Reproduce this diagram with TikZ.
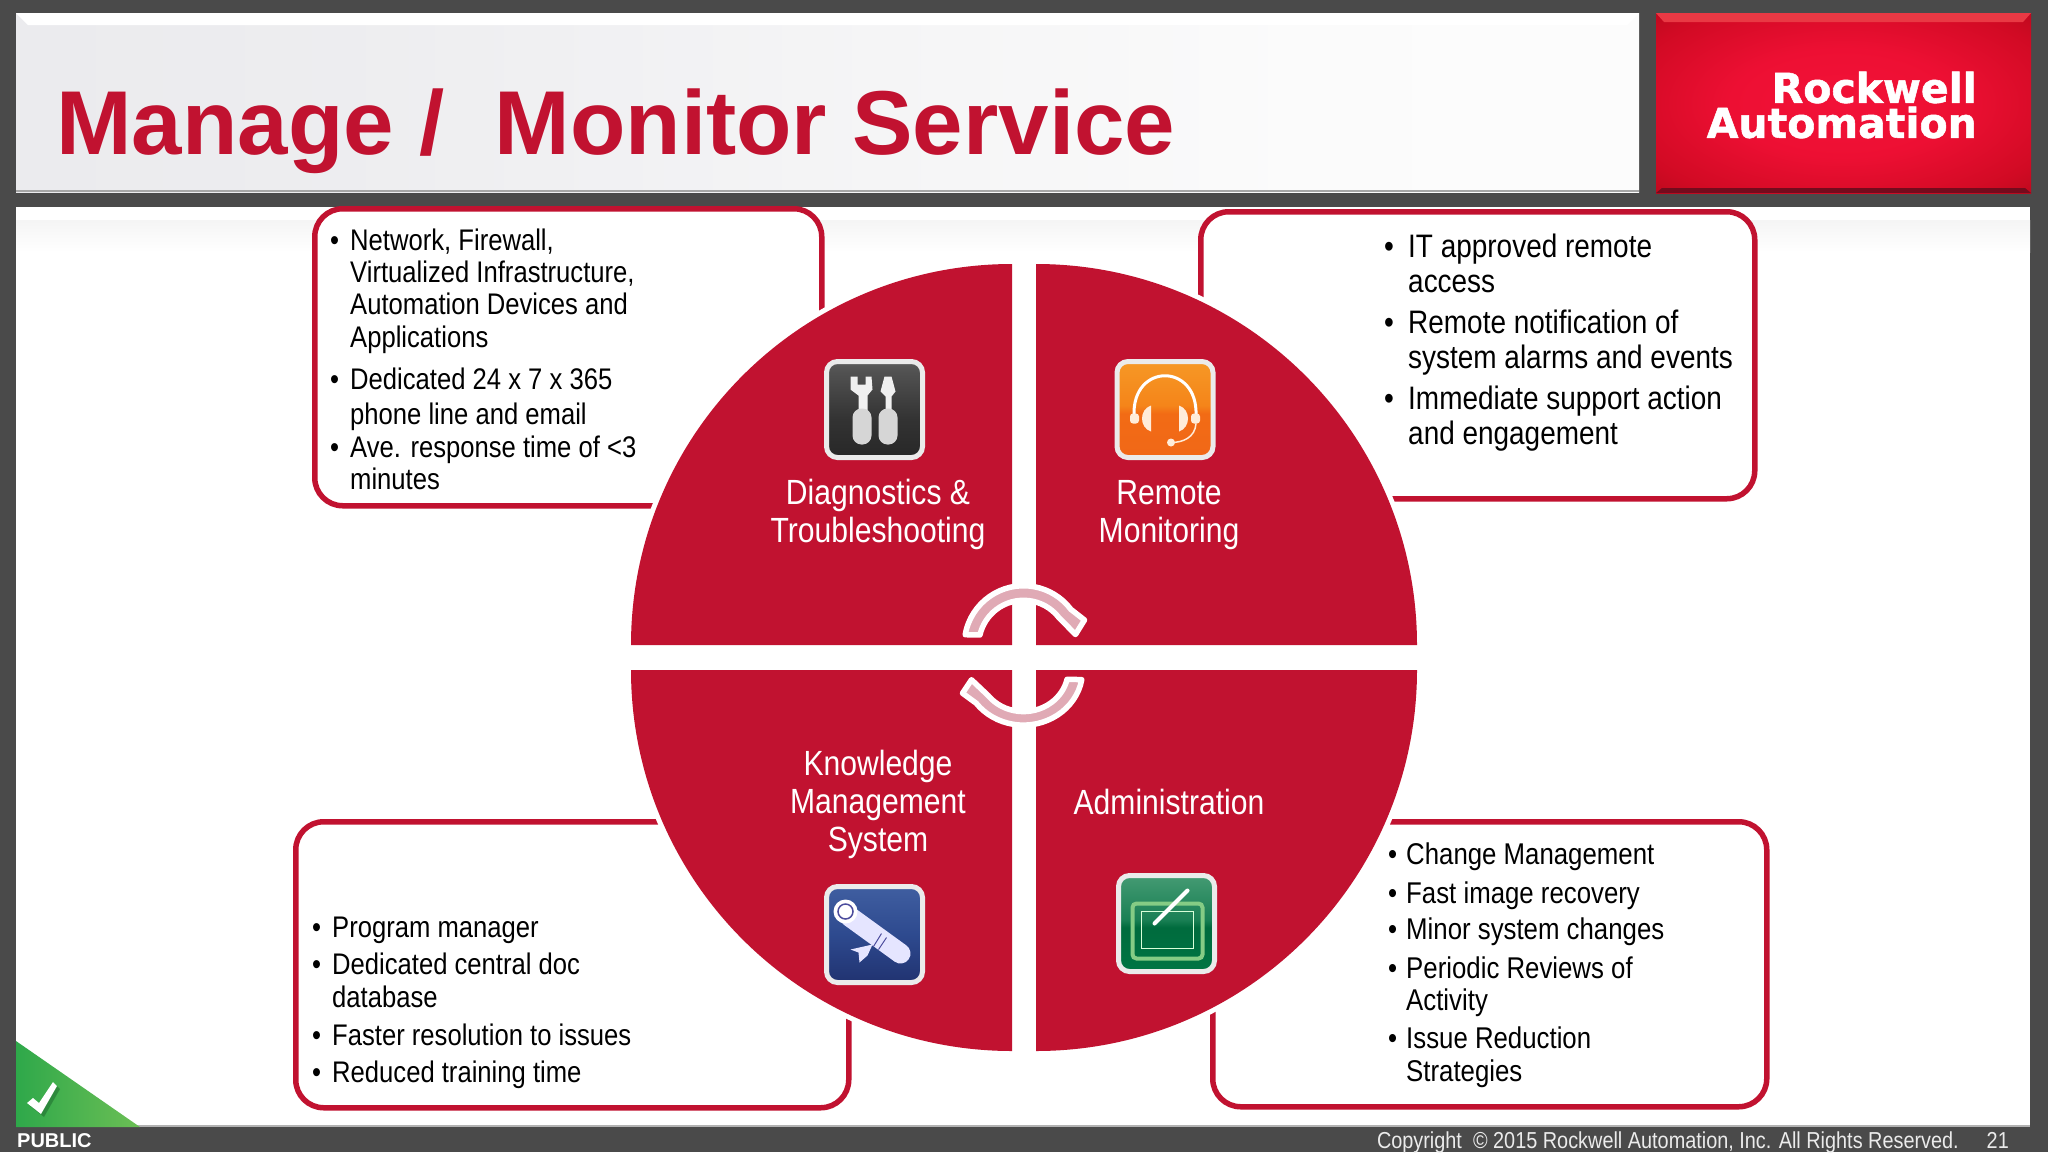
\documentclass[tikz,border=0pt]{standalone}
\usepackage{fontspec}
\usepackage{tikz}
\usetikzlibrary{shadows}
\setmainfont[FakeStretch=0.86]{Liberation Sans}
\newfontfamily\plainfont{Liberation Sans}
\newfontfamily\logofont[BoldFont={DejaVu Sans Bold},BoldFeatures={FakeBold=1.3}]{DejaVu Sans}
\newcommand{\fsize}[1]{\fontsize{#1}{#1}\selectfont}
\definecolor{slate}{HTML}{4A4A4A}
\definecolor{brandred}{HTML}{C11230}
\definecolor{loopfill}{HTML}{E0AAB5}
\definecolor{framegrey}{HTML}{EBEBEB}
\definecolor{flagleft}{HTML}{2EA84A}
\definecolor{flagright}{HTML}{6CBF55}
\pgfdeclareverticalshading{darkicon}{100bp}{rgb(0bp)=(0.45,0.45,0.45);rgb(10bp)=(0.12,0.12,0.12);rgb(45bp)=(0.20,0.20,0.20);rgb(70bp)=(0.32,0.32,0.32);rgb(100bp)=(0.58,0.58,0.58)}
\pgfdeclareverticalshading{orangeicon}{100bp}{rgb(0bp)=(0.98,0.62,0.30);rgb(12bp)=(0.94,0.40,0.10);rgb(48bp)=(0.95,0.42,0.08);rgb(52bp)=(0.96,0.52,0.10);rgb(100bp)=(0.97,0.68,0.20)}
\pgfdeclareverticalshading{blueicon}{100bp}{rgb(0bp)=(0.45,0.50,0.66);rgb(12bp)=(0.10,0.15,0.38);rgb(50bp)=(0.18,0.29,0.56);rgb(75bp)=(0.25,0.37,0.63);rgb(100bp)=(0.55,0.65,0.82)}
\pgfdeclareverticalshading{greenicon}{100bp}{rgb(0bp)=(0.35,0.72,0.52);rgb(12bp)=(0.00,0.48,0.28);rgb(48bp)=(0.00,0.42,0.24);rgb(52bp)=(0.10,0.50,0.33);rgb(100bp)=(0.45,0.72,0.58)}
\pgfdeclarehorizontalshading{titlepanel}{100bp}{rgb(0bp)=(0.90,0.90,0.91);rgb(35bp)=(0.93,0.93,0.94);rgb(65bp)=(0.985,0.985,0.985);rgb(100bp)=(1,1,1)}
\pgfdeclareradialshading{logoglow}{\pgfpoint{0bp}{0bp}}{rgb(0bp)=(0.95,0.07,0.22);rgb(15bp)=(0.93,0.06,0.20);rgb(30bp)=(0.82,0.04,0.14);rgb(42bp)=(0.66,0.03,0.09);rgb(50bp)=(0.60,0.02,0.08)}
\tikzset{
  calloutbox/.style={draw=brandred,fill=white,line width=5.5pt,rounded corners=28pt,anchor=north west,inner sep=0pt},
  iconbox/.style={draw=framegrey,line width=5pt,rounded corners=11pt,minimum size=96pt,inner sep=0pt,
    drop shadow={shadow xshift=1pt,shadow yshift=-2pt,opacity=.35}},
  quadlabel/.style={text=white,align=center,inner sep=0pt,font=\fontsize{35}{38}\selectfont},
  listtext/.style={anchor=base west,inner sep=0pt,font=\fsize{#1}},
  loopshape/.style={draw=white,fill=loopfill,line width=5.5pt,line join=round},
}
\begin{document}
\begin{tikzpicture}[x=1pt,y=-1pt]
\path[use as bounding box,fill=slate] (0,0) rectangle (2048,1152);
% panels
\path[shading=titlepanel] (16,13) rectangle (1639,192);
\fill[white] (16,13) -- (1639,13) -- (1627,25) -- (28,25) -- cycle;
\fill[gray!70] (16,190) rectangle (1639,192);
\fill[white] (16,207) rectangle (2030,1127);
\path[top color=gray!8,bottom color=white] (16,220) rectangle (2030,252);
\fill[gray!60] (16,1125) rectangle (2030,1127);
\path[shading=logoglow] (1656,13) rectangle (2031,193);
\fill[red!55!brandred!80!white] (1656,13) -- (2031,13) -- (2023,22) -- (1664,22) -- cycle;
\fill[brandred!60!black] (1656,193) -- (2031,193) -- (2025,188) -- (1662,188) -- cycle;
\node[anchor=base west,inner sep=0pt,text=brandred,font=\plainfont\bfseries\fsize{90.7}] (title) at (56,154) {Manage /\ \ Monitor Service};
\node[anchor=east,inner sep=0pt,align=right,text=white,font=\logofont\bfseries\fontsize{41}{35}\selectfont] (logo) at (1977,105) {Rockwell\\Automation};
% callouts
\node[calloutbox,minimum width=507pt,minimum height=297pt] (boxtl) at (312,206) {};
\node[calloutbox,minimum width=554pt,minimum height=287pt] (boxtr) at (1198,209) {};
\node[calloutbox,minimum width=553pt,minimum height=286pt] (boxbl) at (293,819) {};
\node[calloutbox,minimum width=554pt,minimum height=285pt] (boxbr) at (1210,819) {};
% the wheel
\foreach \cx/\cy/\ang in {1012/645/90,1036/645/0,1012/670/180,1036/670/270}
  \fill[white,shift={(\cx,\cy)},x=1pt,y=1pt] (0,0) -- (\ang:386) arc[start angle=\ang,delta angle=90,radius=386pt] -- cycle;
\foreach \cx/\cy/\ang in {1012/645/90,1036/645/0,1012/670/180,1036/670/270}
  \fill[brandred,shift={(\cx,\cy)},x=1pt,y=1pt] (0,0) -- (\ang:381) arc[start angle=\ang,delta angle=90,radius=381pt] -- cycle;
\foreach \cy/\ang/\sy in {645/0/1,670/180/.93}
  \draw[loopshape,shift={(1023.5,\cy)},rotate=\ang,yscale=\sy,x=1pt,y=1pt]
    (-58.3,10.3) arc[start angle=170,end angle=37,radius=59.25pt]
    -- (61,25) -- (52,10.5) -- (35.3,27.5)
    arc[start angle=38,end angle=167,radius=44.75pt] -- cycle;
% icons
\node[iconbox,shading=darkicon] (diag) at (874.5,409.5) {};
\node[iconbox,shading=orangeicon] (remote) at (1165,409.5) {};
\node[iconbox,shading=blueicon] (know) at (874.5,934.5) {};
\node[iconbox,shading=greenicon] (admin) at (1166.5,923.5) {};
\begin{scope}[shift={(diag.center)}]
\fill[white!94!black] (-24,-33) -- (-17,-33) -- (-17,-25) -- (-9,-25) -- (-9,-33) -- (-3,-33) -- (-2,-20) -- (-7,-14) -- (-7,2) -- (-16,2) -- (-16,-14) -- (-24,-20) -- cycle;
\fill[white!84!black,rounded corners=9pt] (-22,-1) rectangle (-3,35);
\fill[white!94!black] (10,-33) -- (17,-33) -- (21,-18) -- (17,-13) -- (17,2) -- (11,2) -- (11,-13) -- (6,-18) -- cycle;
\fill[white!84!black,rounded corners=9pt] (4,-1) rectangle (23,35);
\end{scope}
\begin{scope}[shift={(remote.center)}]
\draw[white,line width=3pt] (-31,6) .. controls (-33,-47) and (33,-47) .. (31,6);
\fill[orange!15!white,rounded corners=3pt] (-35,4) rectangle (-26,14);
\fill[orange!15!white,rounded corners=3pt] (26,4) rectangle (35,14);
\fill[orange!15!white] (-14,-4) .. controls (-26,0) and (-26,18) .. (-14,22) -- cycle;
\fill[orange!15!white] (14,-4) .. controls (26,0) and (26,18) .. (14,22) -- cycle;
\draw[orange!15!white,line width=1.5pt] (31,14) .. controls (30,28) and (18,33) .. (6,33);
\fill[orange!15!white] (6,33) circle[radius=4pt];
\end{scope}
\begin{scope}[shift={(know.center)}]
\draw[white!90!blue,line width=20pt,line cap=round] (-25,-18) -- (26,19);
\fill[white] (-29,-23) circle[radius=12pt];
\draw[blue!45!black!70,line width=1.5pt] (-29,-23) circle[radius=7.5pt];
\draw[blue!45!black!70,line width=1pt] (7,-1) -- (-1,12);
\draw[blue!45!black!70,line width=1pt] (12,3) -- (4,15);
\fill[white!90!blue] (-2,10) -- (-24,15) -- (-16,18) -- (-15,28) -- (-7,21) -- cycle;
\end{scope}
\begin{scope}[shift={(admin.center)}]
\draw[white!65!green!80!black,line width=4pt,rounded corners=4pt] (-34,-20) rectangle (36,35);
\draw[white!85!green,line width=1.5pt] (-25,-12) rectangle (27,25);
\draw[white,line width=4pt,line cap=round] (-12,0) -- (21,-33);
\end{scope}
% wheel labels
\node[quadlabel] (diagtxt) at (878,514) {Diagnostics \&\\Troubleshooting};
\node[quadlabel] (remotetxt) at (1169,515) {Remote\\Monitoring};
\node[quadlabel] (knowtxt) at (878,804.5) {Knowledge\\Management\\System};
\node[quadlabel] (admintxt) at (1169,802) {Administration};
% bullet lists
\foreach \nm/\ypos/\txt in {a/250/{Network, Firewall,},b/282/{Virtualized Infrastructure,},c/314/Automation Devices and,d/347/Applications,e/389/Dedicated 24 x 7 x 365,f/424/phone line and email,g/457/Ave. response time of <3,h/489/minutes}
  \node[listtext=29.8] (tl\nm) at (350,\ypos) {\txt};
\foreach \nm/\ypos in {a/250,b/389,c/457}
  \node[listtext=29.8] (tldot\nm) at (330,\ypos) {•};
\foreach \nm/\ypos/\txt in {a/257/IT approved remote,b/292/access,c/333/Remote notification of,d/368/system alarms and events,e/409/Immediate support action,f/444/and engagement}
  \node[listtext=32.5] (tr\nm) at (1408,\ypos) {\txt};
\foreach \nm/\ypos in {a/257,b/333,c/409}
  \node[listtext=32.5] (trdot\nm) at (1384,\ypos) {•};
\foreach \nm/\ypos/\txt in {a/937/Program manager,b/974/Dedicated central doc,c/1007/database,d/1045/Faster resolution to issues,e/1082/Reduced training time}
  \node[listtext=29.8] (bl\nm) at (332,\ypos) {\txt};
\foreach \nm/\ypos in {a/937,b/974,c/1045,d/1082}
  \node[listtext=29.8] (bldot\nm) at (312,\ypos) {•};
\foreach \nm/\ypos/\txt in {a/864/Change Management,b/903/Fast image recovery,c/939/Minor system changes,d/978/Periodic Reviews of,e/1010/Activity,f/1048/Issue Reduction,g/1081/Strategies}
  \node[listtext=30] (br\nm) at (1406,\ypos) {\txt};
\foreach \nm/\ypos in {a/864,b/903,c/939,d/978,e/1048}
  \node[listtext=30] (brdot\nm) at (1388,\ypos) {•};
% classification flag and footer
\path[left color=flagleft,right color=flagright] (16,1041) -- (140,1127) -- (16,1127) -- cycle;
\fill[flagleft!60!black,opacity=.5] (30,1106) -- (36,1101) -- (42,1106) -- (56,1085) -- (60,1089) -- (44,1117) -- cycle;
\fill[white] (27,1103) -- (33,1098) -- (39,1103) -- (53,1082) -- (57,1086) -- (41,1114) -- cycle;
\node[anchor=base west,inner sep=0pt,text=white,font=\plainfont\bfseries\fsize{20}] (public) at (17,1147) {PUBLIC};
\node[anchor=base east,inner sep=0pt,text=framegrey,font=\fsize{23.1}] (copy) at (1959,1148) {Copyright\ \ © 2015 Rockwell Automation, Inc. All Rights Reserved.};
\node[anchor=base east,inner sep=0pt,text=framegrey,font=\fsize{23.1}] (pagenum) at (2009,1148) {21};
\end{tikzpicture}
\end{document}
